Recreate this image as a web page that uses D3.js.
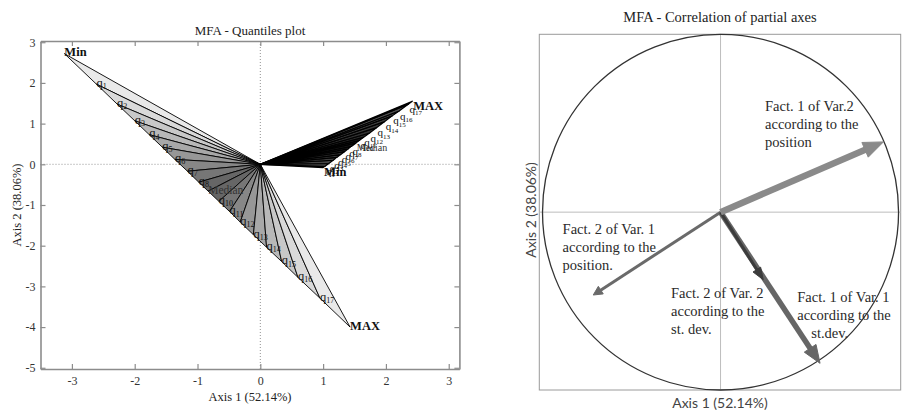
<!DOCTYPE html>
<html><head><meta charset="utf-8">
<script src="https://cdn.jsdelivr.net/npm/d3@7"></script>
<style>body{margin:0;background:#fff}svg{display:block}</style>
</head><body>
<svg id="c" width="902" height="414"></svg>
<script>
// ---------- data ----------
const quantileLabels = ["Min","q1","q2","q3","q4","q5","q6","q7","q8","Median","q10","q11","q12","q13","q14","q15","q16","q17","MAX"];
const var1X = [-3.12,-2.61,-2.28,-2.00,-1.77,-1.56,-1.36,-1.16,-0.98,-0.83,-0.66,-0.49,-0.32,-0.11,0.10,0.34,0.60,0.95,1.43];
const var1Y = [2.72,1.97,1.48,1.07,0.73,0.42,0.12,-0.17,-0.44,-0.66,-0.91,-1.16,-1.42,-1.73,-2.04,-2.39,-2.78,-3.29,-4.00];
const var2X = [1.00,1.03,1.09,1.16,1.22,1.28,1.34,1.40,1.45,1.52,1.58,1.64,1.74,1.85,1.98,2.10,2.21,2.36,2.42];
const var2Y = [-0.08,-0.05,0.02,0.10,0.17,0.24,0.31,0.38,0.44,0.52,0.59,0.66,0.77,0.90,1.05,1.19,1.31,1.48,1.55];
const xTicksLeft = [-3,-2,-1,0,1,2,3];
const yTicksLeft = [3,2,1,0,-1,-2,-3,-4,-5];

const arrowNames = ["Fact. 1 of Var.2 according to the position","Fact. 1 of Var. 1 according to the st.dev.","Fact. 2 of Var. 2 according to the st. dev.","Fact. 2 of Var. 1 according to the position."];
const arrowX = [0.915, 0.559, 0.240, -0.715];
const arrowY = [0.395, -0.850, -0.380, -0.466];
const annotLines = [
  ["Fact. 1 of Var.2","according to the","position"],
  ["Fact. 1 of Var. 1","according to the","st.dev."],
  ["Fact. 2 of Var. 2","according to the","st. dev."],
  ["Fact. 2 of Var. 1","according to the","position."]
];

// ---------- layout / style ----------
const svg = d3.select("#c");
const serif = "'Liberation Serif','Times New Roman',serif";
const sans = "Lato,'Open Sans',sans-serif";
const fmt = d => String(d);

// ================= LEFT PANEL =================
const xL = d3.scaleLinear().domain([-3.5, 3.17]).range([40.5, 459.4]);
const yL = d3.scaleLinear().domain([-5.03, 3.03]).range([369, 41]);
const L = svg.append("g");

L.append("line").attr("x1", xL(0)).attr("x2", xL(0)).attr("y1", yL.range()[0]).attr("y2", yL.range()[1])
  .attr("stroke", "#777").attr("stroke-width", 0.8).attr("stroke-dasharray", "1,2");
L.append("line").attr("x1", xL.range()[0]).attr("x2", xL.range()[1]).attr("y1", yL(0)).attr("y2", yL(0))
  .attr("stroke", "#777").attr("stroke-width", 0.8).attr("stroke-dasharray", "1,2");

function drawFan(xs, ys, opt) {
  const g = L.append("g");
  const pts = xs.map((x, i) => [xL(x), yL(ys[i])]);
  const o = [xL(0), yL(0)];
  const n = pts.length - 1, mid = n / 2;
  const shade = d3.scaleLinear().domain([0.5, mid - 0.5]).range([opt.dark, opt.light]);
  for (let i = 0; i < n; i++) {
    g.append("path")
      .attr("d", d3.line()([o, pts[i], pts[i + 1]]) + "Z")
      .attr("fill", shade(Math.abs(i + 0.5 - mid)))
      .attr("stroke", "#000").attr("stroke-width", opt.sw).attr("stroke-linejoin", "round");
  }
  pts.forEach((p, i) => {
    const lab = quantileLabels[i];
    const t = g.append("text").attr("x", p[0] + opt.dx).attr("y", p[1] + opt.dy)
      .attr("font-family", serif).attr("fill", "#111").attr("dominant-baseline", "middle");
    const m = lab.match(/^q(\d+)$/);
    if (m) {
      t.attr("font-size", opt.q).text("q");
      t.append("tspan").attr("font-size", opt.sub).attr("dy", 3).text(m[1]);
    } else if (lab === "Median") {
      t.attr("font-size", opt.q - 1).attr("fill", "#333").text(lab);
    } else {
      t.attr("font-size", 12.5).attr("font-weight", "bold").text(lab);
    }
  });
}
drawFan(var1X, var1Y, {dx: 0, dy: 0, dark: "#666", light: "#e9e9e9", sw: 0.9, q: 12.5, sub: 8});
drawFan(var2X, var2Y, {dx: 1, dy: 6, dark: "#1a1a1a", light: "#555", sw: 1.2, q: 11, sub: 7});

function styleAxis(g) {
  g.select(".domain").attr("stroke", "#8c8c8c").attr("stroke-width", 1.6);
  g.selectAll(".tick line").attr("stroke", "#8c8c8c").attr("stroke-width", 1.2);
  g.selectAll("text").attr("font-family", serif).attr("font-size", 12).attr("fill", "#333");
}
L.append("g").attr("transform", `translate(0,${yL.range()[0]})`)
  .call(d3.axisBottom(xL).tickValues(xTicksLeft).tickFormat(fmt).tickSizeInner(-5).tickSizeOuter(0).tickPadding(7)).call(styleAxis);
L.append("g").attr("transform", `translate(0,${yL.range()[1]})`)
  .call(d3.axisTop(xL).tickValues(xTicksLeft).tickSizeInner(-5).tickSizeOuter(0).tickFormat("")).call(styleAxis);
L.append("g").attr("transform", `translate(${xL.range()[0]},0)`)
  .call(d3.axisLeft(yL).tickValues(yTicksLeft).tickFormat(fmt).tickSizeInner(-5).tickSizeOuter(0).tickPadding(5)).call(styleAxis);
L.append("g").attr("transform", `translate(${xL.range()[1]},0)`)
  .call(d3.axisRight(yL).tickValues(yTicksLeft).tickSizeInner(-5).tickSizeOuter(0).tickFormat("")).call(styleAxis);

L.append("text").attr("x", 250).attr("y", 35).attr("text-anchor", "middle")
  .attr("font-family", serif).attr("font-size", 13).attr("fill", "#222").text("MFA - Quantiles plot");
L.append("text").attr("x", 250).attr("y", 401).attr("text-anchor", "middle")
  .attr("font-family", serif).attr("font-size", 12.5).attr("fill", "#222").text("Axis 1 (52.14%)");
L.append("text").attr("transform", "translate(21,205) rotate(-90)").attr("text-anchor", "middle")
  .attr("font-family", serif).attr("font-size", 12.5).attr("fill", "#222").text("Axis 2 (38.06%)");

// ================= RIGHT PANEL =================
const xR = d3.scaleLinear().domain([-1.018, 1.012]).range([539.3, 900.7]);
const yR = d3.scaleLinear().domain([-1, 1]).range([390, 34.3]);
const R = svg.append("g");

R.append("rect").attr("x", xR.range()[0]).attr("y", yR.range()[1])
  .attr("width", xR.range()[1] - xR.range()[0]).attr("height", yR.range()[0] - yR.range()[1])
  .attr("fill", "none").attr("stroke", "#9a9a9a").attr("stroke-width", 1);
R.append("line").attr("x1", xR(0)).attr("x2", xR(0)).attr("y1", yR.range()[0]).attr("y2", yR.range()[1])
  .attr("stroke", "#bdbdbd").attr("stroke-width", 1);
R.append("line").attr("x1", xR.range()[0]).attr("x2", xR.range()[1]).attr("y1", yR(0)).attr("y2", yR(0))
  .attr("stroke", "#bdbdbd").attr("stroke-width", 1);
R.append("ellipse").attr("cx", xR(0)).attr("cy", yR(0))
  .attr("rx", xR(1) - xR(0)).attr("ry", yR(0) - yR(1))
  .attr("fill", "none").attr("stroke", "#333").attr("stroke-width", 1.3);

const arrowColor = ["#8a8a8a", "#666", "#3c3c3c", "#6a6a6a"];
const arrowWidth = [6.5, 5.5, 3, 3];
const headLen = [20, 18, 12, 9];
const headW = [16, 14, 9, 9];
const drawOrder = [3, 1, 2, 0];
drawOrder.forEach(i => {
  const x0 = xR(0), y0 = yR(0), x1 = xR(arrowX[i]), y1 = yR(arrowY[i]);
  const dx = x1 - x0, dy = y1 - y0, len = Math.hypot(dx, dy);
  const ux = dx / len, uy = dy / len;
  const bx = x1 - ux * headLen[i], by = y1 - uy * headLen[i];
  const g = R.append("g").attr("class", "arrow").attr("data-name", arrowNames[i]);
  g.append("line").attr("x1", x0).attr("y1", y0).attr("x2", bx + ux * 2).attr("y2", by + uy * 2)
    .attr("stroke", arrowColor[i]).attr("stroke-width", arrowWidth[i]);
  const hw = headW[i] / 2;
  g.append("path").attr("d", d3.line()([[x1, y1], [bx - uy * hw, by + ux * hw], [bx + uy * hw, by - ux * hw]]) + "Z")
    .attr("fill", arrowColor[i]).attr("stroke", arrowColor[i]).attr("stroke-width", 1).attr("stroke-linejoin", "round");
});

const annotX = [0.250, 0.431, -0.278, -0.887];
const annotY = [0.567, -0.504, -0.481, -0.125];
const lastLineDx = [0, 14, 0, 0];
annotLines.forEach((lines, i) => {
  const t = R.append("text").attr("x", xR(annotX[i])).attr("y", yR(annotY[i]))
    .attr("font-family", serif).attr("font-size", 14.5).attr("fill", "#2a2a2a");
  lines.forEach((s, j) => {
    t.append("tspan").attr("x", xR(annotX[i]) + (j === lines.length - 1 ? lastLineDx[i] : 0))
      .attr("dy", j === 0 ? 0 : 18).text(s);
  });
});

R.append("text").attr("x", 720).attr("y", 21.5).attr("text-anchor", "middle")
  .attr("font-family", serif).attr("font-size", 14.5).attr("fill", "#222").text("MFA - Correlation of partial axes");
R.append("text").attr("x", 720).attr("y", 407.5).attr("text-anchor", "middle")
  .attr("font-family", sans).attr("font-size", 14).attr("fill", "#444").text("Axis 1 (52.14%)");
R.append("text").attr("transform", "translate(535.5,210) rotate(-90)").attr("text-anchor", "middle")
  .attr("font-family", sans).attr("font-size", 14).attr("fill", "#444").text("Axis 2 (38.06%)");
</script>
</body></html>
